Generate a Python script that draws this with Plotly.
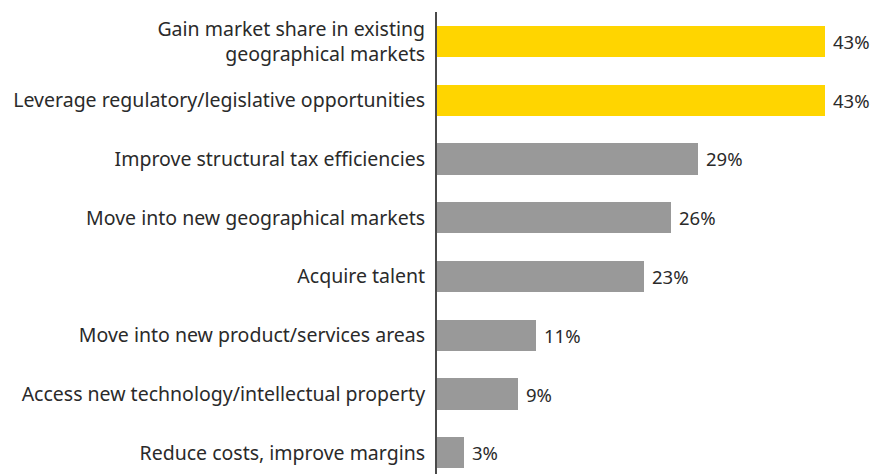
import plotly.graph_objects as go

# Share of respondents citing each deal objective
categories = [
    "Gain market share in existing<br>geographical markets",
    "Leverage regulatory/legislative opportunities",
    "Improve structural tax efficiencies",
    "Move into new geographical markets",
    "Acquire talent",
    "Move into new product/services areas",
    "Access new technology/intellectual property",
    "Reduce costs, improve margins",
]
values = [43, 43, 29, 26, 23, 11, 9, 3]
highlight = [True, True, False, False, False, False, False, False]

YELLOW = "#FFD500"
GREY = "#999999"
FONT = "Noto Sans"
TEXT = "#2a2a2a"

colors = [YELLOW if h else GREY for h in highlight]

fig = go.Figure(
    go.Bar(
        x=values,
        y=categories,
        orientation="h",
        marker=dict(color=colors, line=dict(width=0)),
        width=0.53,
        hoverinfo="skip",
    )
)

for cat, v in zip(categories, values):
    fig.add_annotation(
        x=v, y=cat, text=f"{v}%", showarrow=False,
        xanchor="left", xshift=6,
        font=dict(family=FONT, size=18.5, color=TEXT),
    )

fig.update_layout(
    width=886, height=474,
    margin=dict(l=437, r=0, t=12, b=0),
    paper_bgcolor="white", plot_bgcolor="white",
    showlegend=False,
    bargap=0,
)
fig.update_xaxes(
    range=[0, 49.8], visible=False, showgrid=False, zeroline=False,
)
fig.update_yaxes(
    range=[7.36, -0.5], showgrid=False, zeroline=False,
    showline=True, linecolor="#4a4a4a", linewidth=2,
    ticks="", ticklabelstandoff=6,
    tickfont=dict(family=FONT, size=19.5, color=TEXT),
)

fig.write_html("out.html")
